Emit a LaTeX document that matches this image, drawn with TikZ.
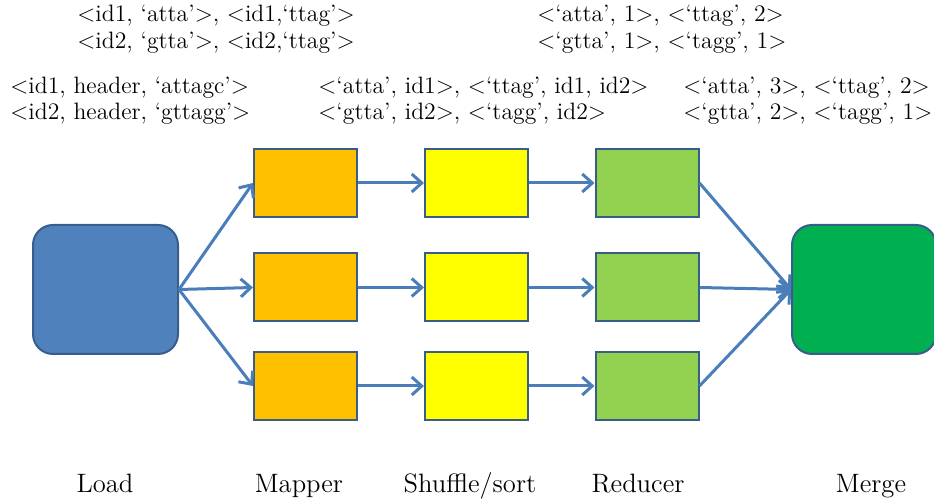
\documentclass[tikz,border=0pt]{standalone}
\usepackage{fontspec}
\usetikzlibrary{arrows.meta}

\definecolor{edgeblue}{HTML}{385D8A}
\definecolor{arrowblue}{HTML}{4A7EBB}
\definecolor{loadfill}{HTML}{4F81BD}
\definecolor{mapfill}{HTML}{FFC000}
\definecolor{shufflefill}{HTML}{FFFF00}
\definecolor{reducefill}{HTML}{92D050}
\definecolor{mergefill}{HTML}{00B050}

\tikzset{
  stage/.style={draw=edgeblue, line width=1pt, minimum width=51.5pt, minimum height=34pt, inner sep=0pt},
  endstage/.style={draw=edgeblue, line width=1pt, rounded corners=10pt, minimum width=72.5pt, minimum height=64.5pt, inner sep=0pt},
  flow/.style={draw=arrowblue, line width=1.5pt, -{Straight Barb[length=5pt,width=9pt,line width=1.5pt]}},
  kv/.style={anchor=base west, inner sep=0pt, font=\fontsize{11.85}{14}\selectfont},
  caption/.style={anchor=base, inner sep=0pt, font=\fontsize{13.3}{15}\selectfont}
}

\begin{document}
\begin{tikzpicture}[x=0.5pt, y=-0.5pt]
  \clip (0,0) rectangle (934,501);
  \useasboundingbox (0,0) rectangle (934,501);

  % key/value examples above the stages
  \node[kv] (t1) at (77,22) {<id1, ‘atta’>, <id1,‘ttag’>};
  \node[kv] (t2) at (77,49) {<id2, ‘gtta’>, <id2,‘ttag’>};
  \node[kv] (t3) at (537,22) {<‘atta’, 1>, <‘ttag’, 2>};
  \node[kv] (t4) at (537,49) {<‘gtta’, 1>, <‘tagg’, 1>};
  \node[kv] (s1) at (10,94) {<id1, header, ‘attagc’>};
  \node[kv] (s2) at (10,120) {<id2, header, ‘gttagg’>};
  \node[kv] (s3) at (318,94) {<‘atta’, id1>, <‘ttag’, id1, id2>};
  \node[kv] (s4) at (318,120) {<‘gtta’, id2>, <‘tagg’, id2>};
  \node[kv] (s5) at (683,94) {<‘atta’, 3>, <‘ttag’, 2>};
  \node[kv] (s6) at (683,120) {<‘gtta’, 2>, <‘tagg’, 1>};

  % pipeline stages
  \node[endstage, fill=loadfill] (load) at (105.5,289.5) {};
  \node[endstage, fill=mergefill, minimum width=72pt] (merge) at (864,289.5) {};

  \foreach \i/\y in {1/183, 2/287.5, 3/386} {
    \node[stage, fill=mapfill] (map\i) at (305.5,\y) {};
    \node[stage, fill=shufflefill] (shuf\i) at (476.5,\y) {};
    \node[stage, fill=reducefill] (red\i) at (647,\y) {};
  }

  % data flow
  \foreach \i in {1,2,3} {
    \draw[flow] (load.east) -- (map\i.west);
    \draw[flow] (map\i.east) -- (shuf\i.west);
    \draw[flow] (shuf\i.east) -- (red\i.west);
    \draw[flow] (red\i.east) -- (merge.west);
  }

  % stage names
  \node[caption] (l1) at (105,493) {Load};
  \node[caption] (l2) at (299,493) {Mapper};
  \node[caption] (l3) at (470,493) {Shuffle/sort};
  \node[caption] (l4) at (638,493) {Reducer};
  \node[caption] (l5) at (871,493) {Merge};
\end{tikzpicture}
\end{document}
